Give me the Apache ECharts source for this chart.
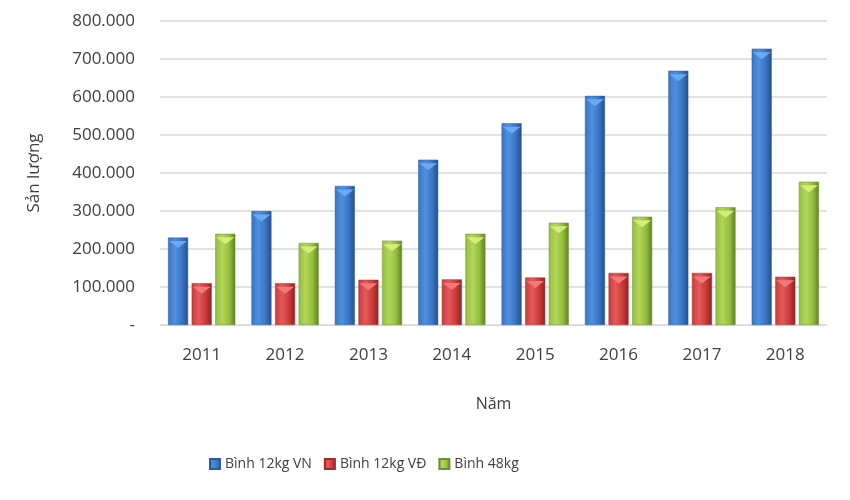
<!DOCTYPE html>
<html><head><meta charset="utf-8">
<script src="https://cdn.jsdelivr.net/npm/echarts@6/dist/echarts.min.js"></script>
<style>html,body{margin:0;padding:0;background:#fff}#c{width:850px;height:500px}</style>
</head><body><div id="c"></div>
<script>
const categories = ['2011','2012','2013','2014','2015','2016','2017','2018'];
const binh12VN = [230000, 300000, 366000, 435000, 531000, 603000, 669000, 727000];
const binh12VD = [110000, 110000, 119000, 120000, 125000, 137000, 137000, 127000];
const binh48 = [240000, 216000, 222000, 240000, 269000, 285000, 310000, 377000];
const seriesNames = ['Bình 12kg VN', 'Bình 12kg VĐ', 'Bình 48kg'];

function grad(light, mid, dark){
  return new echarts.graphic.LinearGradient(0,0,1,0,[
    {offset:0,color:mid},{offset:0.35,color:light},{offset:0.7,color:mid},{offset:1,color:dark}
  ]);
}
const font = 'Open Sans';
const txt = '#404040';
const chart = echarts.init(document.getElementById('c'));
function fmt(v){
  if (v === 0) return '-';
  return v.toString().replace(/\B(?=(\d{3})+(?!\d))/g, '.');
}
const BW = 20, GAP = '18%';
function cap(name, data, color){
  return {name:name+' cap', type:'pictorialBar', data:data, barWidth:BW, barGap:GAP,
    symbol:'triangle', symbolRotate:180, symbolPosition:'end', symbolSize:[BW-2,7],
    symbolOffset:[0,'50%'], itemStyle:{color:color}, z:5, silent:true};
}
chart.setOption({
  animation:false,
  textStyle:{fontFamily:font},
  grid:{left:160,right:23,top:21,bottom:175},
  legend:{
    left:204, top:452, itemWidth:10, itemHeight:10, itemGap:12,
    textStyle:{color:txt,fontSize:14,fontFamily:font},
    icon:'rect',
    data:seriesNames
  },
  xAxis:{
    type:'category', data:categories,
    name:'Năm', nameLocation:'middle', nameGap:71,
    nameTextStyle:{color:txt,fontSize:16},
    axisLine:{lineStyle:{color:'#d9d9d9'}},
    axisTick:{show:false},
    axisLabel:{color:txt,fontSize:17,margin:22}
  },
  yAxis:{
    type:'value', min:0, max:800000, interval:100000,
    name:'Sản lượng', nameLocation:'middle', nameGap:117, nameRotate:90,
    nameTextStyle:{color:txt,fontSize:17},
    axisLine:{show:false}, axisTick:{show:false},
    splitLine:{lineStyle:{color:'#d9d9d9',width:1.5}},
    axisLabel:{color:txt,fontSize:17,margin:25,formatter:fmt}
  },
  series:[
    {name:seriesNames[0],type:'bar',data:binh12VN,barWidth:BW,barGap:GAP,
     itemStyle:{color:grad('#4f8fe0','#3a74c4','#24508f'),borderColor:'#2a5a9e',borderWidth:0.5}},
    {name:seriesNames[1],type:'bar',data:binh12VD,barWidth:BW,barGap:GAP,
     itemStyle:{color:grad('#e25b5b','#cc3a3a','#8f2222'),borderColor:'#a32c2c',borderWidth:0.5}},
    {name:seriesNames[2],type:'bar',data:binh48,barWidth:BW,barGap:GAP,
     itemStyle:{color:grad('#b3d65a','#93be3e','#5f7f24'),borderColor:'#6f9030',borderWidth:0.5}},
    cap(seriesNames[0], binh12VN, '#6aaaf0'),
    cap(seriesNames[1], binh12VD, '#f07a7a'),
    cap(seriesNames[2], binh48, '#d4ec7a')
  ]
});
</script></body></html>
